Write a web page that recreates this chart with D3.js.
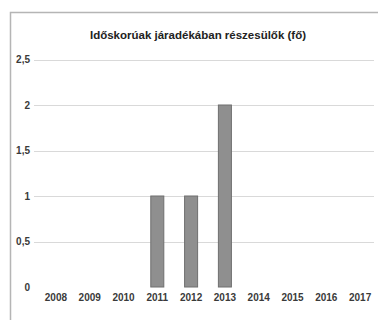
<!DOCTYPE html>
<html>
<head>
<meta charset="utf-8">
<script src="https://cdn.jsdelivr.net/npm/d3@7"></script>
<style>
  html, body { margin: 0; padding: 0; background: #fff; }
  svg { display: block; }
</style>
</head>
<body>
<svg id="chart" width="378" height="320"></svg>
<script>
// Number of recipients of the elderly allowance, per year
const years = ["2008", "2009", "2010", "2011", "2012", "2013", "2014", "2015", "2016", "2017"];
const recipients = [0, 0, 0, 1, 1, 2, 0, 0, 0, 0];
const yTicks = [0, 0.5, 1, 1.5, 2, 2.5];
const titleText = "Időskorúak járadékában részesülők (fő)";

const svg = d3.select("#chart");
const font = "'Liberation Sans Narrow', 'Liberation Sans', Arial, sans-serif";

// outer chart frame (left and top edges visible)
svg.append("path")
  .attr("d", "M10.5,320 L10.5,12.5 L378,12.5")
  .attr("fill", "none")
  .attr("stroke", "#b5b5b5")
  .attr("stroke-width", 1.5);

const x = d3.scaleBand().domain(years).range([39, 377]).paddingInner(0.615).paddingOuter(0.3075);
const y = d3.scaleLinear().domain([0, 2.5]).range([287, 59.5]);

// horizontal gridlines
svg.append("g")
  .selectAll("line")
  .data(yTicks.filter(d => d > 0))
  .join("line")
  .attr("x1", 34).attr("x2", 374)
  .attr("y1", d => Math.round(y(d)) + 0.5)
  .attr("y2", d => Math.round(y(d)) + 0.5)
  .attr("stroke", "#d9d9d9")
  .attr("stroke-width", 1);

// y axis labels
const fmt = d => String(d).replace(".", ",");
const yAxis = d3.axisLeft(y).tickValues(yTicks).tickFormat(fmt).tickSize(0).tickPadding(0);
const gy = svg.append("g").attr("transform", "translate(30,0)").call(yAxis);
gy.select(".domain").remove();
gy.selectAll("text")
  .attr("font-family", font)
  .attr("font-size", 10)
  .attr("font-weight", "bold")
  .attr("fill", "#3a3a3a");

// bars
svg.append("g")
  .selectAll("rect")
  .data(years.map((yr, i) => ({ yr, v: recipients[i] })).filter(d => d.v > 0))
  .join("rect")
  .attr("x", d => x(d.yr))
  .attr("width", x.bandwidth())
  .attr("y", d => y(d.v))
  .attr("height", d => y(0) - y(d.v))
  .attr("fill", "#8f8f8f")
  .attr("stroke", "#6f6f6f")
  .attr("stroke-width", 1);

// x axis labels
const xAxis = d3.axisBottom(x).tickSize(0).tickPadding(0);
const gx = svg.append("g").attr("transform", "translate(0,294)").call(xAxis);
gx.select(".domain").remove();
gx.selectAll("text")
  .attr("font-family", font)
  .attr("font-size", 10)
  .attr("font-weight", "bold")
  .attr("fill", "#3a3a3a");

// title
svg.append("text")
  .attr("x", 198)
  .attr("y", 39)
  .attr("text-anchor", "middle")
  .attr("font-family", font)
  .attr("font-size", 11.5)
  .attr("font-weight", "bold")
  .attr("fill", "#222")
  .text(titleText);
</script>
</body>
</html>
